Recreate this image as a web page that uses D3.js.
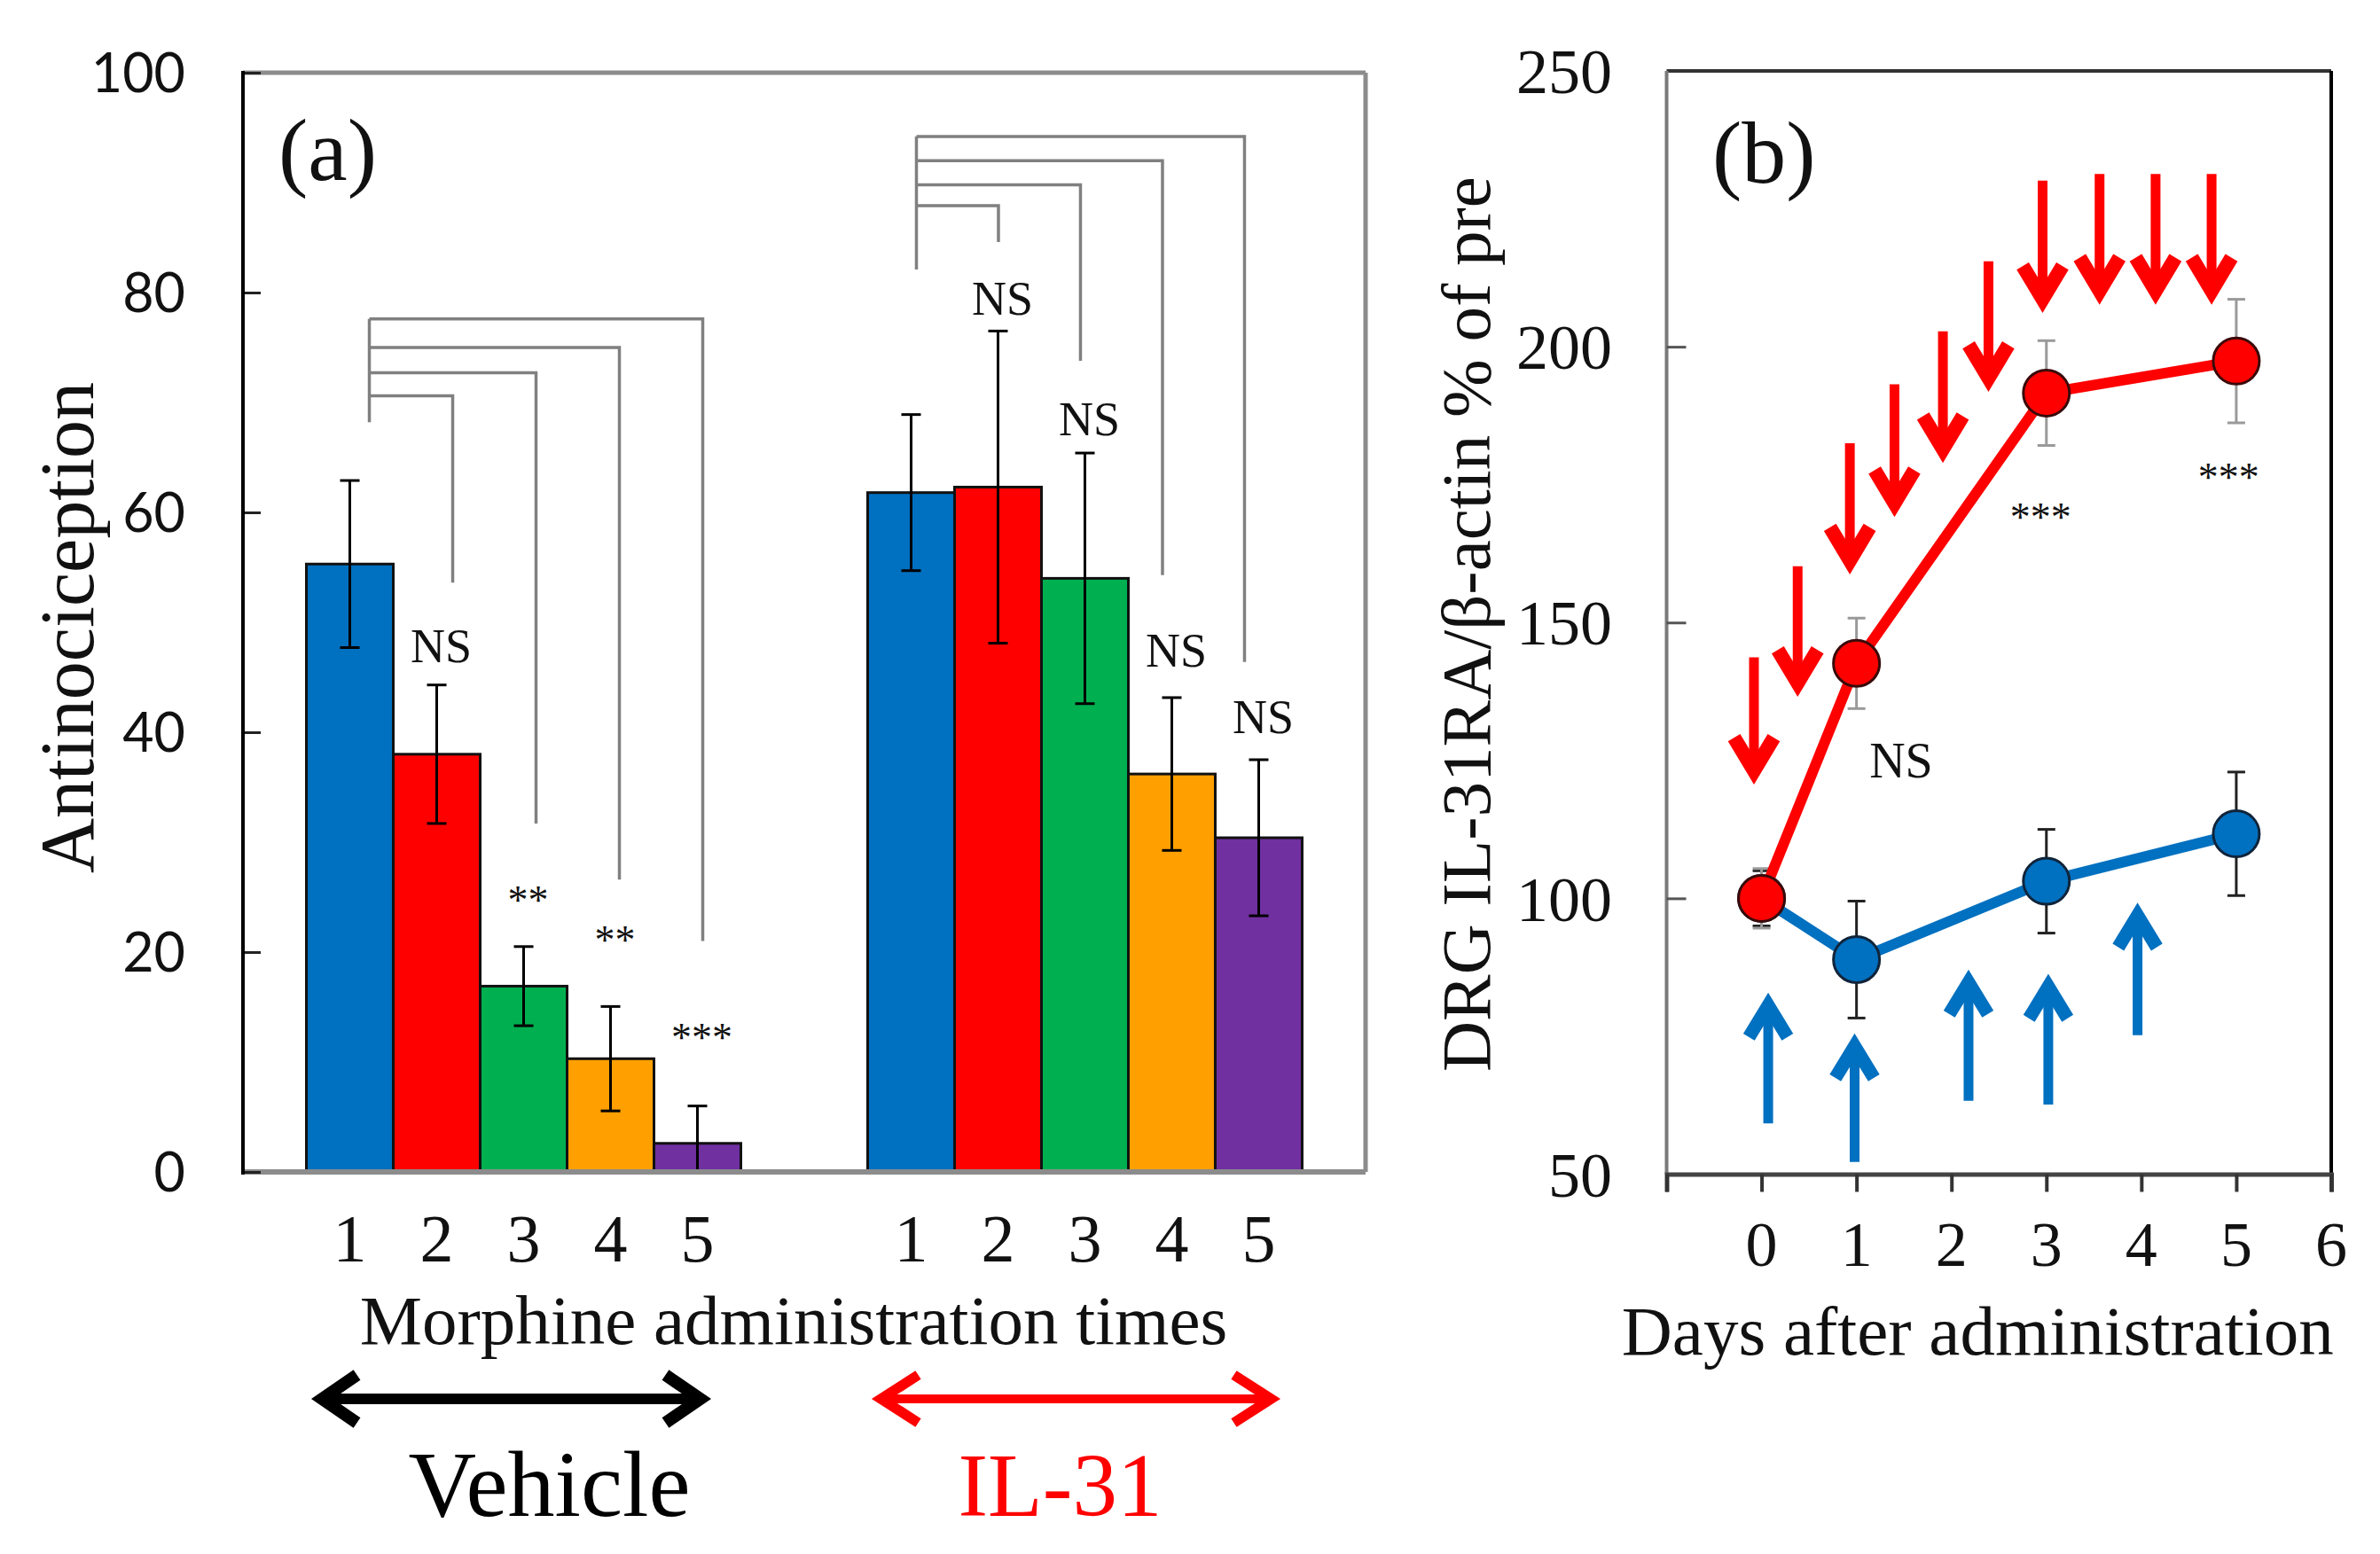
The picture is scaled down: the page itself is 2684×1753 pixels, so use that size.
<!DOCTYPE html>
<html><head><meta charset="utf-8">
<script src="https://cdn.jsdelivr.net/npm/d3@7"></script>
<style>html,body{margin:0;padding:0;background:#fff;} svg{display:block;}</style>
</head><body><svg id="c" width="2684" height="1753"></svg>
<script>
// ---------- Panel (a) data ----------
const groups = ["Vehicle", "IL-31"];
const groupColors = ["#000000", "#FF0000"];
const times = [1, 2, 3, 4, 5];
const barColors = ["#0070C0", "#FF0000", "#00B050", "#FFA000", "#7030A0"];
const vehicleMean = [55.3, 38.0, 16.9, 10.3, 2.6];
const vehicleErr = [7.6, 6.3, 3.6, 4.75, 3.4];
const il31Mean = [61.8, 62.3, 54.0, 36.2, 30.4];
const il31Err = [7.1, 14.2, 11.4, 6.95, 7.1];
const vehicleSig = ["", "NS", "**", "**", "***"];
const vehicleSigY = [null, 46.4, 23.5, 19.8, 11.0];
const il31Sig = ["", "NS", "NS", "NS", "NS"];
const il31SigY = [null, 78.0, 67.0, 46.0, 39.9];
const vehicleBracketLevel = [null, 70.6, 72.7, 75.0, 77.6];
const vehicleBracketEnd = [68.2, 53.6, 31.7, 26.6, 21.0];
const il31BracketLevel = [null, 87.9, 89.8, 92.0, 94.2];
const il31BracketEnd = [82.1, 84.6, 73.8, 54.3, 46.4];
const yTicksA = [0, 20, 40, 60, 80, 100];

// ---------- Panel (b) data ----------
const days = [0, 1, 3, 5];
const il31Series = [100, 142.6, 191.6, 197.4];
const il31SeriesErr = [5.4, 8.2, 9.5, 11.2];
const vehSeries = [100, 88.9, 103.1, 111.7];
const vehSeriesErr = [5.0, 10.6, 9.4, 11.2];
const xTicksB = [-1, 0, 1, 2, 3, 4, 5, 6];
const xTickLabelsB = ["", "0", "1", "2", "3", "4", "5", "6"];
const yTicksB = [50, 100, 150, 200, 250];
const redArrowDay = [-0.08, 0.38, 0.93, 1.40, 1.91, 2.39, 2.96, 3.56, 4.15, 4.74];
const redArrowFrom = [143.7, 160.2, 182.5, 193.2, 202.8, 215.5, 230.1, 231.3, 231.3, 231.3];
const redArrowTo = [120.3, 136.2, 158.4, 168.8, 178.6, 191.5, 205.8, 207.3, 207.3, 207.3];
const blueArrowDay = [0.07, 0.98, 2.18, 3.02, 3.96];
const blueArrowFrom = [59.2, 52.2, 63.3, 62.6, 75.2];
const blueArrowTo = [83.2, 75.8, 87.4, 86.6, 99.5];
const sigBLabel = ["NS", "***", "***"];
const sigBDay = [1.47, 2.94, 4.92];
const sigBY = [121.9, 166.6, 173.8];

const SERIF = "'Liberation Serif', 'Times New Roman', serif";
const SANS = "Lato, 'Liberation Sans', sans-serif";
const svg = d3.select("#c");

// ---------- helpers ----------
function chevronArrow(g, x, yTail, yTip, color, sw, ww, hw, hl) {
  const dir = Math.sign(yTip - yTail);
  const theta = Math.atan(hw / hl);
  const inset = (ww / 2) / Math.sin(theta);
  g.append("line").attr("x1", x).attr("x2", x).attr("y1", yTail).attr("y2", yTip - dir * inset * 1.2)
    .attr("stroke", color).attr("stroke-width", sw);
  g.append("path")
    .attr("d", `M${x - hw + ww * 0.35},${yTip - dir * hl} L${x},${yTip - dir * inset} L${x + hw - ww * 0.35},${yTip - dir * hl}`)
    .attr("fill", "none").attr("stroke", color).attr("stroke-width", ww)
    .attr("stroke-linejoin", "miter").attr("stroke-miterlimit", 10);
}
function doubleArrow(g, x1, x2, y, color, sw, hw, hl) {
  const theta = Math.atan(hw / hl);
  const inset = (sw * 1.15 / 2) / Math.sin(theta);
  g.append("line").attr("x1", x1 + inset).attr("x2", x2 - inset).attr("y1", y).attr("y2", y)
    .attr("stroke", color).attr("stroke-width", sw);
  g.append("path").attr("d", `M${x1 + hl},${y - hw} L${x1 + inset},${y} L${x1 + hl},${y + hw}`)
    .attr("fill", "none").attr("stroke", color).attr("stroke-width", sw * 1.15).attr("stroke-miterlimit", 10);
  g.append("path").attr("d", `M${x2 - hl},${y - hw} L${x2 - inset},${y} L${x2 - hl},${y + hw}`)
    .attr("fill", "none").attr("stroke", color).attr("stroke-width", sw * 1.15).attr("stroke-miterlimit", 10);
}

// =================== Panel (a) ===================
const A = { left: 274, right: 1540, top: 82, bottom: 1322 };
const yA = d3.scaleLinear().domain([0, 100]).range([A.bottom, A.top]);
const x0 = d3.scaleBand().domain(groups).range([A.left, A.right]).paddingInner(0.2259).paddingOuter(0.113);
const x1 = d3.scaleBand().domain(times).range([0, x0.bandwidth()]);
const gA = svg.append("g");

const groupData = [
  { name: "Vehicle", mean: vehicleMean, err: vehicleErr, sig: vehicleSig, sigY: vehicleSigY,
    level: vehicleBracketLevel, end: vehicleBracketEnd, off0: 22, offStep: -4 },
  { name: "IL-31", mean: il31Mean, err: il31Err, sig: il31Sig, sigY: il31SigY,
    level: il31BracketLevel, end: il31BracketEnd, off0: 6, offStep: -5.5 }
];

groupData.forEach(gd => {
  const gx = x0(gd.name);
  const cx = t => gx + x1(t) + x1.bandwidth() / 2;
  gA.selectAll(null).data(times).join("rect")
    .attr("x", t => gx + x1(t)).attr("width", x1.bandwidth())
    .attr("y", (t, i) => yA(gd.mean[i])).attr("height", (t, i) => yA(0) - yA(gd.mean[i]))
    .attr("fill", (t, i) => barColors[i]).attr("stroke", "#111").attr("stroke-width", 3);
  times.forEach((t, i) => {
    const lo = Math.max(0, gd.mean[i] - gd.err[i]);
    const hi = gd.mean[i] + gd.err[i];
    gA.append("line").attr("x1", cx(t)).attr("x2", cx(t)).attr("y1", yA(lo)).attr("y2", yA(hi))
      .attr("stroke", "#000").attr("stroke-width", 3);
    gA.append("line").attr("x1", cx(t) - 11).attr("x2", cx(t) + 11).attr("y1", yA(hi)).attr("y2", yA(hi))
      .attr("stroke", "#000").attr("stroke-width", 3);
    if (gd.mean[i] - gd.err[i] > 0)
      gA.append("line").attr("x1", cx(t) - 11).attr("x2", cx(t) + 11).attr("y1", yA(lo)).attr("y2", yA(lo))
        .attr("stroke", "#000").attr("stroke-width", 3);
  });
  const bx = i => cx(times[i]) + gd.off0 + gd.offStep * i;
  const topLevel = d3.max(gd.level.filter(v => v != null));
  gA.append("line").attr("x1", bx(0)).attr("x2", bx(0)).attr("y1", yA(topLevel)).attr("y2", yA(gd.end[0]))
    .attr("stroke", "#808080").attr("stroke-width", 3.5);
  for (let i = 1; i < times.length; i++) {
    gA.append("path")
      .attr("d", `M${bx(0)},${yA(gd.level[i])} H${bx(i)} V${yA(gd.end[i])}`)
      .attr("fill", "none").attr("stroke", "#808080").attr("stroke-width", 3.5);
  }
  times.forEach((t, i) => {
    if (!gd.sig[i]) return;
    const star = gd.sig[i].includes("*");
    gA.append("text").attr("x", cx(t) + 5).attr("y", yA(gd.sigY[i]))
      .attr("text-anchor", "middle").attr("font-family", SERIF)
      .attr("font-size", star ? 46 : 54).attr("fill", "#111").text(gd.sig[i]);
  });
  gA.selectAll(null).data(times).join("text")
    .attr("x", t => cx(t)).attr("y", 1423).attr("text-anchor", "middle")
    .attr("font-family", SERIF).attr("font-size", 76).attr("fill", "#111").text(t => t);
});

// frame
gA.append("line").attr("x1", A.left).attr("x2", A.right).attr("y1", A.top).attr("y2", A.top).attr("stroke", "#8c8c8c").attr("stroke-width", 5);
gA.append("line").attr("x1", A.right).attr("x2", A.right).attr("y1", A.top).attr("y2", A.bottom).attr("stroke", "#8c8c8c").attr("stroke-width", 5);
gA.append("line").attr("x1", A.left).attr("x2", A.right).attr("y1", A.bottom).attr("y2", A.bottom).attr("stroke", "#8c8c8c").attr("stroke-width", 6);
const axA = gA.append("g").attr("transform", `translate(${A.left},0)`)
  .call(d3.axisRight(yA).tickValues(yTicksA).tickSize(20).tickFormat(""));
axA.select(".domain").remove();
axA.selectAll(".tick line").attr("stroke", "#222").attr("stroke-width", 3);
gA.append("line").attr("x1", A.left).attr("x2", A.left).attr("y1", A.top - 2).attr("y2", A.bottom + 3).attr("stroke", "#000").attr("stroke-width", 4);
gA.selectAll(null).data(yTicksA).join("text")
  .attr("x", 209).attr("y", d => yA(d)).attr("dy", "0.36em").attr("text-anchor", "end")
  .attr("font-family", SANS).attr("font-size", 61).attr("fill", "#111").text(d => d);
gA.append("text").attr("transform", "translate(105,708) rotate(-90)").attr("text-anchor", "middle")
  .attr("font-family", SERIF).attr("font-size", 86).attr("fill", "#111").text("Antinociception");
gA.append("text").attr("x", 314).attr("y", 203).attr("font-family", SERIF).attr("font-size", 100)
  .attr("fill", "#111").text("(a)");
gA.append("text").attr("x", (A.left + A.right) / 2 - 12).attr("y", 1516).attr("text-anchor", "middle")
  .attr("font-family", SERIF).attr("font-size", 79).attr("fill", "#111").text("Morphine administration times");
const labelShift = [29, -28];
const arrowEndTrim = [30, 22];
const labelSize = [106, 101];
groups.forEach((gname, k) => {
  const gx = x0(gname);
  doubleArrow(gA, gx + 2, gx + x0.bandwidth() - arrowEndTrim[k], 1578, groupColors[k], k === 0 ? 12 : 10, 27, 55);
  gA.append("text").attr("x", gx + x0.bandwidth() / 2 + labelShift[k]).attr("y", 1710).attr("text-anchor", "middle")
    .attr("font-family", SERIF).attr("font-size", labelSize[k]).attr("fill", groupColors[k]).text(gname);
});

// =================== Panel (b) ===================
const B = { left: 1879.5, right: 2629, top: 80, bottom: 1324.5 };
const xB = d3.scaleLinear().domain([-1, 6]).range([B.left, B.right]);
const yB = d3.scaleLinear().domain([50, 250]).range([B.bottom, B.top]);
const gB = svg.append("g");

gB.append("line").attr("x1", B.left).attr("x2", B.right).attr("y1", B.top).attr("y2", B.top).attr("stroke", "#333").attr("stroke-width", 4);
gB.append("line").attr("x1", B.right).attr("x2", B.right).attr("y1", B.top).attr("y2", B.bottom).attr("stroke", "#000").attr("stroke-width", 4);
gB.append("line").attr("x1", B.left).attr("x2", B.left).attr("y1", B.top).attr("y2", B.bottom).attr("stroke", "#7a7a7a").attr("stroke-width", 4);
const axBx = gB.append("g").attr("transform", `translate(0,${B.bottom})`)
  .call(d3.axisBottom(xB).tickValues(xTicksB).tickSize(20).tickFormat(""));
axBx.select(".domain").attr("stroke", "#444").attr("stroke-width", 5);
axBx.selectAll(".tick line").attr("stroke", "#333").attr("stroke-width", 4);
gB.selectAll(null).data(xTicksB).join("text")
  .attr("x", d => xB(d)).attr("y", 1428).attr("text-anchor", "middle")
  .attr("font-family", SERIF).attr("font-size", 72).attr("fill", "#111")
  .text((d, i) => xTickLabelsB[i]);
const axBy = gB.append("g").attr("transform", `translate(${B.left},0)`)
  .call(d3.axisRight(yB).tickValues(yTicksB.slice(1, -1)).tickSize(22).tickFormat(""));
axBy.select(".domain").remove();
axBy.selectAll(".tick line").attr("stroke", "#555").attr("stroke-width", 3);
gB.selectAll(null).data(yTicksB).join("text")
  .attr("x", 1818).attr("y", d => yB(d)).attr("dy", "0.35em").attr("text-anchor", "end")
  .attr("font-family", SERIF).attr("font-size", 72).attr("fill", "#111").text(d => d);

gB.append("text").attr("transform", "translate(1680,704) rotate(-90)").attr("text-anchor", "middle")
  .attr("font-family", SERIF).attr("font-size", 79).attr("fill", "#111").text("DRG IL-31RA/β-actin % of pre");
gB.append("text").attr("x", (B.left + B.right) / 2 - 24).attr("y", 1528).attr("text-anchor", "middle")
  .attr("font-family", SERIF).attr("font-size", 79).attr("fill", "#111").text("Days after administration");
gB.append("text").attr("x", 1931).attr("y", 206).attr("font-family", SERIF).attr("font-size", 100)
  .attr("fill", "#111").text("(b)");

redArrowDay.forEach((d, i) => chevronArrow(gB, xB(d), yB(redArrowFrom[i]), yB(redArrowTo[i]), "#FF0000", 11, 16, 28, 55));
blueArrowDay.forEach((d, i) => chevronArrow(gB, xB(d), yB(blueArrowFrom[i]), yB(blueArrowTo[i]), "#0070C0", 11, 15, 27, 52));

function series(vals, errs, color, errColor, edge) {
  const g = gB.append("g");
  days.forEach((d, i) => {
    const lo = yB(vals[i] - errs[i]), hi = yB(vals[i] + errs[i]), x = xB(d);
    g.append("line").attr("x1", x).attr("x2", x).attr("y1", lo).attr("y2", hi).attr("stroke", errColor).attr("stroke-width", 3);
    g.append("line").attr("x1", x - 10).attr("x2", x + 10).attr("y1", lo).attr("y2", lo).attr("stroke", errColor).attr("stroke-width", 3);
    g.append("line").attr("x1", x - 10).attr("x2", x + 10).attr("y1", hi).attr("y2", hi).attr("stroke", errColor).attr("stroke-width", 3);
  });
  const line = d3.line().x((d, i) => xB(days[i])).y(d => yB(d));
  g.append("path").datum(vals).attr("d", line).attr("fill", "none").attr("stroke", color).attr("stroke-width", 12)
    .attr("stroke-linejoin", "round");
  g.selectAll(null).data(vals).join("circle")
    .attr("cx", (d, i) => xB(days[i])).attr("cy", d => yB(d)).attr("r", 26)
    .attr("fill", color).attr("stroke", edge).attr("stroke-width", 3);
}
series(vehSeries, vehSeriesErr, "#0070C0", "#222", "#10243a");
series(il31Series, il31SeriesErr, "#FF0000", "#9a9a9a", "#3a0a0a");

sigBLabel.forEach((s, i) => {
  const star = s.includes("*");
  gB.append("text").attr("x", xB(sigBDay[i])).attr("y", yB(sigBY[i])).attr("text-anchor", "middle")
    .attr("font-family", SERIF).attr("font-size", star ? 46 : 56).attr("fill", "#111").text(s);
});
</script></body></html>
